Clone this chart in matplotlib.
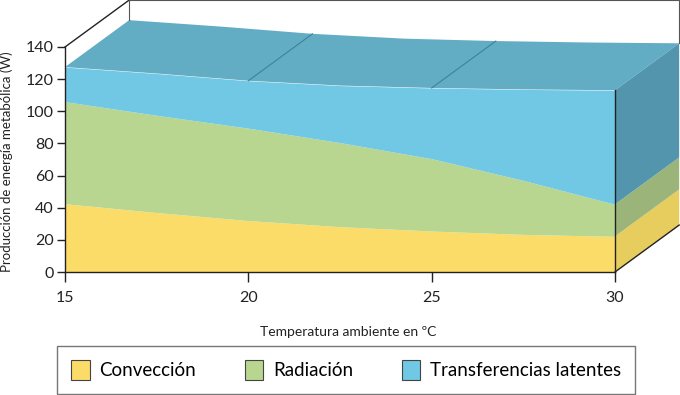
import matplotlib.pyplot as plt
from matplotlib.patches import Polygon, Patch
import numpy as np

# values (W, stacked)
temperature = [15, 17.5, 20, 22.5, 25, 27.5, 30]
convection = [42.5, 37, 32, 28.2, 25.5, 23.4, 22.2]
radiation = [63.5, 60.5, 57.5, 52.3, 45, 33.6, 19.9]
latent = [21.5, 26, 29.5, 35.5, 44, 56.6, 71]

x_ticks = [15, 20, 25, 30]
y_ticks = [0, 20, 40, 60, 80, 100, 120, 140]
labels = ["Convección", "Radiación", "Transferencias latentes"]

front_colors = ["#fcdc68", "#b8d690", "#70c8e4"]
side_colors = ["#e7cc5e", "#9bb47a", "#5395ad"]
top_color = "#62adc4"
depth_line = "#3d8399"

# fake 3D depth, in data units
depth_x = 1.75
depth_y = 29.2


def main():
    plt.rcParams["font.family"] = ["Lato", "DejaVu Sans"]
    fig = plt.figure(figsize=(6.8, 3.95), dpi=100)
    ax = fig.add_axes([65 / 680, 123 / 395, 550 / 680, 225 / 395])

    x = np.array(temperature)
    layers = np.array([convection, radiation, latent])
    tops = np.cumsum(layers, axis=0)
    bottoms = tops - layers
    total = tops[-1]
    x0, x1 = x[0], x[-1]

    # front face
    for lo, hi, col in zip(bottoms, tops, front_colors):
        ax.fill_between(x, lo, hi, color=col, lw=0)

    # top surface
    top_pts = list(zip(x, total)) + list(zip(x[::-1] + depth_x, total[::-1] + depth_y))
    ax.add_patch(Polygon(top_pts, closed=True, fc=top_color, ec="none", clip_on=False))

    # right side face
    for lo, hi, col in zip(bottoms[:, -1], tops[:, -1], side_colors):
        pts = [(x1, lo), (x1, hi), (x1 + depth_x, hi + depth_y), (x1 + depth_x, lo + depth_y)]
        ax.add_patch(Polygon(pts, closed=True, fc=col, ec="none", clip_on=False))

    # depth lines on top surface
    for t in [20, 25]:
        h = np.interp(t, x, total)
        ax.plot([t, t + depth_x], [h, h + depth_y], color=depth_line, lw=0.8, clip_on=False)

    # box edges
    ymax = y_ticks[-1]
    ax.plot([x0, x0 + depth_x], [ymax, ymax + depth_y], color="#222222", lw=1, clip_on=False)
    ax.plot([x0 + depth_x, x0 + depth_x], [ymax + depth_y, total[0] + depth_y],
            color="#555555", lw=0.8, clip_on=False)
    ax.plot([x0 + depth_x, x1 + depth_x, x1 + depth_x],
            [ymax + depth_y, ymax + depth_y, total[-1] + depth_y],
            color="#555555", lw=0.8, clip_on=False)
    ax.plot([x1, x1], [0, total[-1]], color="#222222", lw=1, clip_on=False)
    ax.plot([x1, x1 + depth_x], [0, depth_y], color="#222222", lw=1, clip_on=False)

    ax.set_xlim(x0, x1)
    ax.set_ylim(0, ymax)
    ax.set_xticks(x_ticks)
    ax.set_yticks(y_ticks)
    ax.spines["top"].set_visible(False)
    ax.spines["right"].set_visible(False)
    for s in ["left", "bottom"]:
        ax.spines[s].set_color("#222222")
        ax.spines[s].set_linewidth(1)
    ax.tick_params(axis="x", length=7, width=1, pad=7, labelsize=11.5, colors="#222222")
    ax.tick_params(axis="y", length=6, width=1, pad=2, labelsize=11.5, colors="#222222")
    ax.patch.set_alpha(0)

    ax.set_xlabel("Temperatura ambiente en ºC", fontsize=10, color="#222222")
    ax.xaxis.set_label_coords(0.515, -0.24)
    ax.set_ylabel("Producción de energía metabólica (W)", fontsize=9.5, color="#222222")
    ax.yaxis.set_label_coords(-0.094, 0.49)

    handles = [Patch(fc=c, ec="#444444", lw=0.8) for c in front_colors]
    leg = fig.legend(handles, labels, loc="center", bbox_to_anchor=(346 / 680, 1 - 370 / 395),
                     ncol=3, frameon=True, fancybox=False, edgecolor="#555555",
                     fontsize=13.5, handlelength=1.0, handleheight=1.25,
                     handletextpad=0.5, columnspacing=2.6, borderpad=0.75)
    leg.get_frame().set_linewidth(1)

    fig.savefig("out.png", dpi=100)


if __name__ == "__main__":
    main()
